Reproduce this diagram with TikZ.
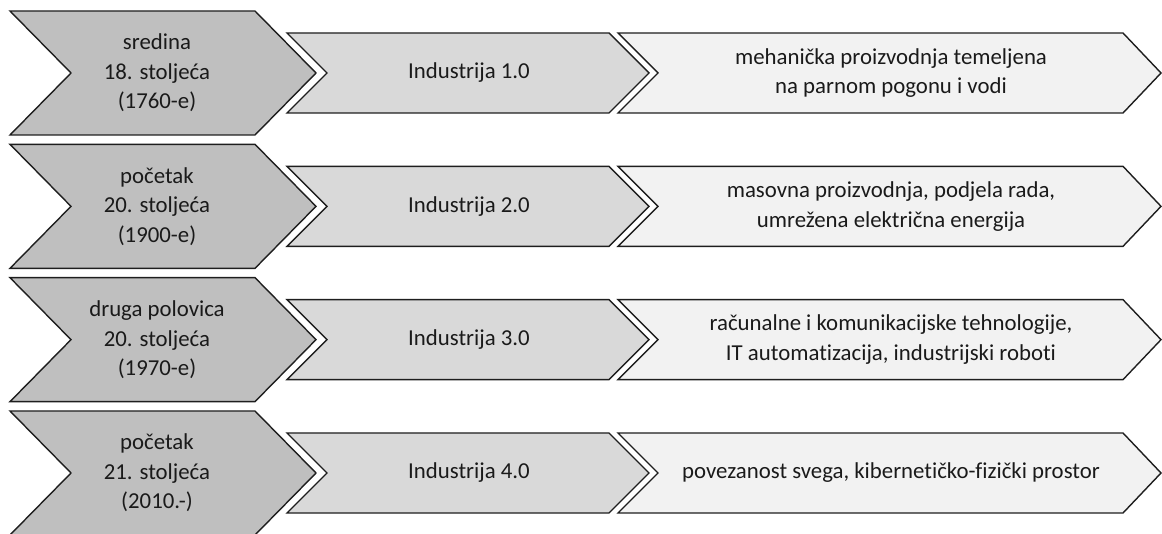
\documentclass[tikz,border=0pt]{standalone}
\usepackage{fontspec}
\setmainfont{Carlito}[Ligatures={NoCommon}]
\definecolor{cbig}{HTML}{BFBFBF}
\definecolor{cmid}{HTML}{D9D9D9}
\definecolor{clight}{HTML}{F2F2F2}
\definecolor{cline}{HTML}{1E1E1E}
\definecolor{ctext}{HTML}{1A1A1A}
\newcommand\chevrow[5]{%
  \pgfmathsetmacro\cy{73+133.333*#1}%
  \filldraw[chev, fill=cbig] (10,\cy-62) -- (255,\cy-62) -- (316,\cy) -- (255,\cy+62) -- (10,\cy+62) -- (71,\cy) -- cycle;
  \filldraw[chev, fill=cmid] (287,\cy-40) -- (609,\cy-40) -- (649,\cy) -- (609,\cy+40) -- (287,\cy+40) -- (327,\cy) -- cycle;
  \filldraw[chev, fill=clight] (618,\cy-40) -- (1123,\cy-40) -- (1161,\cy) -- (1123,\cy+40) -- (618,\cy+40) -- (658,\cy) -- cycle;
  \node[lbl] (date#2) at (157,\cy) {#3};
  \node[lbl] (ind#2) at (469,\cy) {#4};
  \node[lbl] (desc#2) at (891,\cy) {#5};
}
\begin{document}
\begin{tikzpicture}[x=1pt,y=-1pt,
  chev/.style={draw=cline, line width=1.4pt, line join=miter},
  lbl/.style={align=center, text=ctext, inner sep=0pt, font=\fontsize{22.8}{29.5}\selectfont}]
\useasboundingbox (0,0) rectangle (1162,534);
\chevrow{0}{1}{sredina\\18. stoljeća\\(1760-e)}{Industrija 1.0}{mehanička proizvodnja temeljena\\na parnom pogonu i vodi}
\chevrow{1}{2}{početak\\20. stoljeća\\(1900-e)}{Industrija 2.0}{masovna proizvodnja, podjela rada,\\umrežena električna energija}
\chevrow{2}{3}{druga polovica\\20. stoljeća\\(1970-e)}{Industrija 3.0}{računalne i komunikacijske tehnologije,\\IT automatizacija, industrijski roboti}
\chevrow{3}{4}{početak\\21. stoljeća\\(2010.-)}{Industrija 4.0}{povezanost svega, kibernetičko-fizički prostor}
\end{tikzpicture}
\end{document}
